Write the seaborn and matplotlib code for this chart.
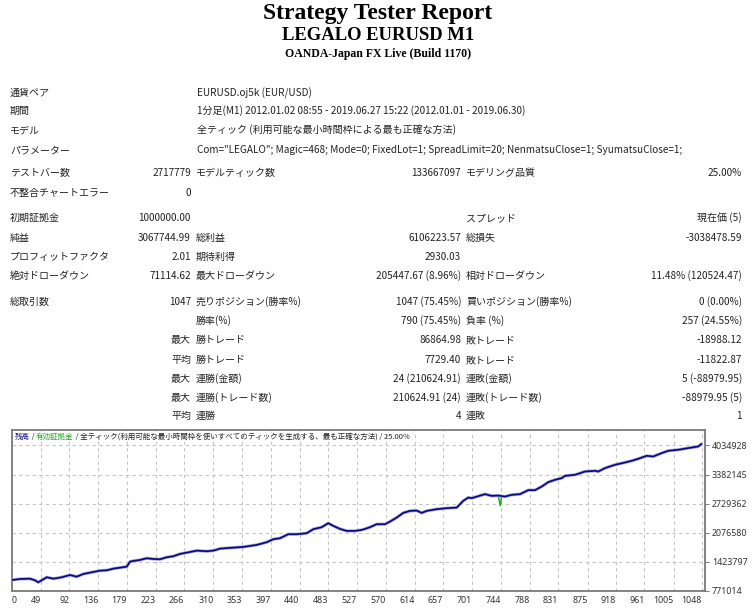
import numpy as np
import pandas as pd
import matplotlib
matplotlib.use("Agg")
import matplotlib.pyplot as plt
import seaborn as sns

# ---------------- data ----------------
title_lines = ["Strategy Tester Report", "LEGALO EURUSD M1", "OANDA-Japan FX Live (Build 1170)"]

info_labels = ["通貨ペア", "期間", "モデル", "パラメーター"]
info_values = [
    "EURUSD.oj5k (EUR/USD)",
    "1分足(M1) 2012.01.02 08:55 - 2019.06.27 15:22 (2012.01.01 - 2019.06.30)",
    "全ティック (利用可能な最小時間枠による最も正確な方法)",
    'Com="LEGALO"; Magic=468; Mode=0; FixedLot=1; SpreadLimit=20; NenmatsuClose=1; SyumatsuClose=1;',
]

col1_labels = ["テストバー数", "不整合チャートエラー", "初期証拠金", "純益", "プロフィットファクタ",
               "絶対ドローダウン", "総取引数", "", "", "", "", "", ""]
col2_values = ["2717779", "0", "1000000.00", "3067744.99", "2.01", "71114.62", "1047",
               "", "最大", "平均", "最大", "最大", "平均"]
col3_labels = ["モデルティック数", "", "", "総利益", "期待利得", "最大ドローダウン",
               "売りポジション(勝率%)", "勝率(%)", "勝トレード", "勝トレード", "連勝(金額)",
               "連勝(トレード数)", "連勝"]
col4_values = ["133667097", "", "", "6106223.57", "2930.03", "205447.67 (8.96%)", "1047 (75.45%)",
               "790 (75.45%)", "86864.98", "7729.40", "24 (210624.91)", "210624.91 (24)", "4"]
col5_labels = ["モデリング品質", "", "スプレッド", "総損失", "", "相対ドローダウン",
               "買いポジション(勝率%)", "負率 (%)", "敗トレード", "敗トレード", "連敗(金額)",
               "連敗(トレード数)", "連敗"]
col6_values = ["25.00%", "", "現在価 (5)", "-3038478.59", "", "11.48% (120524.47)", "0 (0.00%)",
               "257 (24.55%)", "-18988.12", "-11822.87", "5 (-88979.95)", "-88979.95 (5)", "1"]

# balance curve (trade number, balance)
trade_no = [0, 17.7, 32.8, 40.3, 45.3, 58, 68, 80.7, 93.2, 103.3, 113.3, 128.4, 138.5, 148.7,
            158.6, 168.7, 178.9, 183.9, 188.8, 199, 209.1, 219, 229.2, 239.3, 249.3, 259.4,
            269.5, 284.6, 299.7, 309.7, 319.8, 339.9, 355, 375.2, 390.4, 400.3, 410.4, 423,
            435.7, 450.8, 460.7, 473.4, 483.4, 491, 501.1, 511.2, 523.7, 533.9, 538.9, 546.4,
            556.5, 569.1, 576.6, 586.7, 596.7, 606.8, 617, 624.5, 632.1, 647.2, 662.3, 677.4,
            687.3, 694.9, 700, 710, 720.1, 730.2, 740.2, 750.3, 760.4, 773, 785.5, 795.7,
            805.8, 815.7, 825.9, 836, 841, 856.1, 871.2, 886.3, 891.3, 901.4, 916.5, 931.6,
            941.7, 951.7, 964.4, 974.3, 987.1, 997, 1012.1, 1027.2, 1042.3, 1047]
balance = [1000000, 1034381, 1041134, 1005118, 960098, 1072648, 1041134, 1072648, 1124421,
           1086154, 1146931, 1191951, 1221214, 1230218, 1266234, 1288744, 1311254, 1423804,
           1439561, 1462071, 1500338, 1484581, 1477827, 1522848, 1545358, 1597131, 1626394,
           1671414, 1657908, 1671414, 1716434, 1738944, 1754701, 1799721, 1860498, 1928028,
           1950538, 2040578, 2040578, 2063088, 2153128, 2198148, 2288188, 2227411, 2159881,
           2114861, 2114861, 2137371, 2159881, 2198148, 2265678, 2265678, 2324204, 2414244,
           2520041, 2565061, 2571814, 2520041, 2565061, 2603328, 2625838, 2639344, 2790161,
           2864444, 2850938, 2895958, 2940978, 2902711, 2909464, 2886954, 2925221, 2940978,
           3031018, 3031018, 3112054, 3211098, 3262871, 3301138, 3352911, 3375421, 3449704,
           3465461, 3449704, 3526238, 3600521, 3652294, 3690561, 3735581, 3803111, 3787354,
           3863888, 3915661, 3938171, 3976438, 4012454, 4067745]
equity_trade = [740.2, 743.2, 745.5]
equity_vals = [2909464, 2684364, 2900000]

x_tick_labels = ["0", "49", "92", "136", "179", "223", "266", "310", "353", "397", "440", "483",
                 "527", "570", "614", "657", "701", "744", "788", "831", "875", "918", "961",
                 "1005", "1048"]
y_tick_values = [771014, 1423797, 2076580, 2729362, 3382145, 4034928]

chart_caption = ["残高", " / ", "有効証拠金",
                 " / 全ティック(利用可能な最小時間枠を使いすべてのティックを生成する、最も正確な方法) / 25.00%"]

# ---------------- layout / style ----------------
sns.set_theme(style="white")
plt.rcParams["font.family"] = ["Noto Sans CJK JP", "DejaVu Sans"]

W, H = 756, 609
fig = plt.figure(figsize=(W / 100, H / 100), dpi=100)
fig.patch.set_facecolor("white")


def fx(x):
    return x / W


def fy(y):
    return 1 - y / H


serif = ["Liberation Serif", "DejaVu Serif"]
fig.text(fx(378), fy(13), title_lines[0], ha="center", va="center", family=serif,
         weight="bold", fontsize=17, color="black")
fig.text(fx(378), fy(36), title_lines[1], ha="center", va="center", family=serif,
         weight="bold", fontsize=13.4, color="black")
fig.text(fx(378), fy(54), title_lines[2], ha="center", va="center", family=serif,
         weight="bold", fontsize=8.5, color="black")

TXT = "#222222"
FS = 7.2
info_y = [93, 111, 130, 150]
for lab, val, y in zip(info_labels, info_values, info_y):
    fig.text(fx(10), fy(y), lab, ha="left", va="center", fontsize=FS, color=TXT)
    fig.text(fx(197), fy(y), val, ha="left", va="center", fontsize=FS, color=TXT)

row_y = [173, 193, 218, 238, 257, 276, 302, 321, 340, 360, 379, 398, 416]
for i, y in enumerate(row_y):
    fig.text(fx(10), fy(y), col1_labels[i], ha="left", va="center", fontsize=FS, color=TXT)
    fig.text(fx(191), fy(y), col2_values[i], ha="right", va="center", fontsize=FS, color=TXT)
    fig.text(fx(196), fy(y), col3_labels[i], ha="left", va="center", fontsize=FS, color=TXT)
    fig.text(fx(461), fy(y), col4_values[i], ha="right", va="center", fontsize=FS, color=TXT)
    fig.text(fx(466), fy(y), col5_labels[i], ha="left", va="center", fontsize=FS, color=TXT)
    fig.text(fx(742), fy(y), col6_values[i], ha="right", va="center", fontsize=FS, color=TXT)

# ---------------- chart ----------------
left, right, top, bottom = 12, 705, 429.5, 590.7
ax = fig.add_axes([fx(left), fy(bottom), (right - left) / W, (bottom - top) / H])
ax.set_facecolor("white")

df = pd.DataFrame({"trade": trade_no, "balance": balance})
eq = pd.DataFrame({"trade": equity_trade, "equity": equity_vals})

sns.lineplot(data=eq, x="trade", y="equity", ax=ax, color="#1faa1f", lw=1.1, zorder=2)
sns.lineplot(data=df, x="trade", y="balance", ax=ax, color="#a8a8e0", lw=2.3, zorder=3)
sns.lineplot(data=df, x="trade", y="balance", ax=ax, color="#0a0a80", lw=1.25, zorder=4)

x_min, x_max = 5.6, 1052.5
ax.set_xlim(x_min, x_max)
ax.set_ylim(771014, 4394000)

x_pos = [x_min] + [float(v) for v in x_tick_labels[1:]]
ax.set_xticks(x_pos)
ax.set_xticklabels(x_tick_labels)
for k, t in enumerate(ax.get_xticklabels()):
    t.set_ha("left" if k == 0 else "right")

ax.yaxis.tick_right()
ax.set_yticks(y_tick_values)
ax.set_yticklabels([str(v) for v in y_tick_values])

ax.tick_params(axis="x", length=0, pad=3.5, labelsize=6.4, labelcolor="#333333")
ax.tick_params(axis="y", length=3, width=0.8, color="#808080", pad=2, labelsize=6.4,
               labelcolor="#333333", right=True, left=False)
for t in ax.get_xticklabels() + ax.get_yticklabels():
    t.set_family(["Noto Sans", "DejaVu Sans"])

ax.grid(True, color="#c4c4c4", ls=(0, (3, 3)), lw=0.8)
ax.set_axisbelow(True)
for s in ax.spines.values():
    s.set_visible(True)
    s.set_color("#7a7a7a")
    s.set_linewidth(1.3)
ax.set_xlabel("")
ax.set_ylabel("")

# caption at the top-left of the chart
cap_colors = ["#0a0a80", "#222222", "#1faa1f", "#222222"]
cap_fs = 5.4
prev = ax.text(3 / (right - left), 1 - 7.5 / (bottom - top), chart_caption[0],
               transform=ax.transAxes, ha="left", va="center", fontsize=cap_fs,
               color=cap_colors[0], zorder=6)
for s, c in zip(chart_caption[1:], cap_colors[1:]):
    prev = ax.annotate(s, xy=(1, 0.5), xycoords=prev, ha="left", va="center",
                       fontsize=cap_fs, color=c, annotation_clip=False, zorder=6)

fig.savefig("out.png", dpi=100, facecolor="white")
